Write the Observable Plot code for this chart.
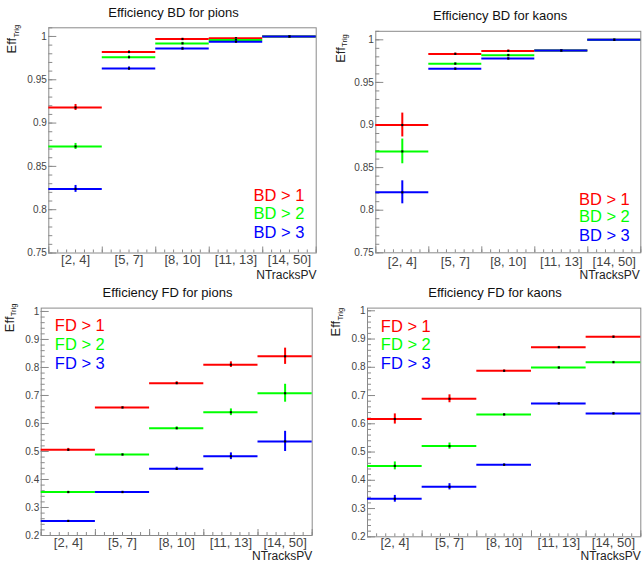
<!DOCTYPE html>
<html><head><meta charset="utf-8">
<script src="https://cdn.jsdelivr.net/npm/d3@7"></script>
<script src="https://cdn.jsdelivr.net/npm/@observablehq/plot@0.6"></script>
<style>
body{margin:0;background:#fff;}
#wrap{position:relative;width:642px;height:562px;overflow:hidden;background:#fff;}
.panel{position:absolute;width:321px;height:281px;}
</style></head><body><div id="wrap"></div>
<script>
// ---- data ----
const bins = ["[2, 4]", "[5, 7]", "[8, 10]", "[11, 13]", "[14, 50]"];
const cutColors = ["#ff0000", "#00ff00", "#0000ff"];
const bdLegend = ["BD > 1", "BD > 2", "BD > 3"];
const fdLegend = ["FD > 1", "FD > 2", "FD > 3"];
const bdYTicks = [0.75, 0.8, 0.85, 0.9, 0.95, 1];
const fdYTicks = [0.2, 0.3, 0.4, 0.5, 0.6, 0.7, 0.8, 0.9, 1];

const bdPionsEff = [
  [0.918, 0.982, 0.997, 0.998, 1.000],
  [0.873, 0.976, 0.992, 0.996, 1.000],
  [0.824, 0.963, 0.986, 0.994, 1.000]];
const bdPionsErr = [
  [0.0035, 0.0015, 0.0010, 0.0008, 0.0005],
  [0.0035, 0.0015, 0.0012, 0.0010, 0.0005],
  [0.0040, 0.0018, 0.0015, 0.0012, 0.0005]];

const bdKaonsEff = [
  [0.900, 0.9835, 0.987, 0.9875, 1.000],
  [0.869, 0.972, 0.982, 0.9875, 1.000],
  [0.821, 0.966, 0.978, 0.9875, 1.000]];
const bdKaonsErr = [
  [0.014, 0.001, 0.001, 0.001, 0.0005],
  [0.0145, 0.001, 0.001, 0.001, 0.0005],
  [0.0135, 0.001, 0.001, 0.001, 0.0005]];

const fdPionsEff = [
  [0.506, 0.657, 0.744, 0.810, 0.840],
  [0.355, 0.489, 0.583, 0.640, 0.708],
  [0.252, 0.355, 0.438, 0.483, 0.536]];
const fdPionsErr = [
  [0.005, 0.003, 0.005, 0.010, 0.029],
  [0.003, 0.003, 0.005, 0.012, 0.032],
  [0.002, 0.003, 0.006, 0.012, 0.036]];

const fdKaonsEff = [
  [0.617, 0.6885, 0.7875, 0.871, 0.908],
  [0.451, 0.521, 0.633, 0.799, 0.818],
  [0.3345, 0.377, 0.455, 0.672, 0.6366]];
const fdKaonsErr = [
  [0.018, 0.014, 0.003, 0.003, 0.003],
  [0.014, 0.011, 0.003, 0.003, 0.003],
  [0.012, 0.011, 0.003, 0.003, 0.003]];

// ---- layout (local pixel positions per pad) ----
const panels = [
  {title: "Efficiency BD for pions", left: 0, top: 0, mL: 48.3, mR: 5.3, mT: 27.3, mB: 28.5,
   ymin: 0.75, ymax: 1.01, minor: 0.01, yTicks: bdYTicks, eff: bdPionsEff, err: bdPionsErr,
   titleX: 173, titleB: 16, effB: 15.7, effEnd: 37.3, ntR: 316, ntB: 278.5, xLabB: 263.5,
   leg: bdLegend, legAnchor: "end", legX: 304, legB: [200.7, 218.7, 237.3]},
  {title: "Efficiency BD for kaons", left: 321, top: 0, mL: 54.3, mR: 1.7, mT: 30.8, mB: 28.7,
   ymin: 0.75, ymax: 1.01, minor: 0.01, yTicks: bdYTicks, eff: bdKaonsEff, err: bdKaonsErr,
   titleX: 178.7, titleB: 19.3, effB: 23, effEnd: 46.7, ntR: 318.3, ntB: 278.8, xLabB: 265,
   leg: bdLegend, legAnchor: "end", legX: 308.3, legB: [204, 221.7, 240]},
  {title: "Efficiency FD for pions", left: 0, top: 281, mL: 40.7, mR: 9.3, mT: 26.6, mB: 27,
   ymin: 0.2, ymax: 1.012, minor: 0.02, yTicks: fdYTicks, eff: fdPionsEff, err: fdPionsErr,
   titleX: 167, titleB: 15.3, effB: 13, effEnd: 35, ntR: 311.7, ntB: 278.3, xLabB: 265.3,
   leg: fdLegend, legAnchor: "start", legX: 54.3, legB: [49.3, 68.3, 87.3]},
  {title: "Efficiency FD for kaons", left: 321, top: 281, mL: 46, mR: 1.7, mT: 26.6, mB: 25.7,
   ymin: 0.2, ymax: 1.0095, minor: 0.02, yTicks: fdYTicks, eff: fdKaonsEff, err: fdKaonsErr,
   titleX: 173.5, titleB: 15.3, effB: 18.3, effEnd: 39.3, ntR: 319.3, ntB: 278.3, xLabB: 265.3,
   leg: fdLegend, legAnchor: "start", legX: 59.3, legB: [50, 68.3, 87.7]}
];

const W = 321, H = 281;
const axisColor = "#8a8a8a";
const font = "'Liberation Sans', Arial, sans-serif";

function makePanel(c) {
  const fw = W - c.mL - c.mR, fh = H - c.mT - c.mB;
  const fb = H - c.mB; // frame bottom
  const fr = W - c.mR; // frame right
  const nMinor = Math.floor((c.ymax - c.ymin) / c.minor + 1e-6);
  const yMinor = d3.range(nMinor + 1).map(k => +(c.ymin + k * c.minor).toFixed(4));
  const xMinor = d3.range(31).map(k => k / 6);
  const marks = [
    Plot.tickY(yMinor, {y: d => d, stroke: axisColor, insetRight: fw - 4}),
    Plot.tickY(c.yTicks, {y: d => d, stroke: axisColor, insetRight: fw - 8}),
    Plot.tickX(xMinor, {x: d => d, stroke: axisColor, insetTop: fh - 3}),
    Plot.tickX(d3.range(6), {x: d => d, stroke: axisColor, insetTop: fh - 6}),
    Plot.frame({stroke: axisColor})
  ];
  c.eff.forEach((vals, s) => {
    const rows = vals.map((v, i) => ({i, v, e: c.err[s][i]}));
    marks.push(Plot.ruleY(rows, {y: "v", x1: "i", x2: d => d.i + 1, stroke: cutColors[s], strokeWidth: 2}));
    marks.push(Plot.ruleX(rows, {x: d => d.i + 0.5, y1: d => d.v - d.e, y2: d => d.v + d.e, stroke: cutColors[s], strokeWidth: 2}));
    marks.push(Plot.dot(rows, {x: d => d.i + 0.5, y: "v", symbol: "square", r: 1.2, fill: "#000"}));
  });
  // y tick labels
  marks.push(Plot.text(c.yTicks, {y: d => d, text: d => String(d), frameAnchor: "left", textAnchor: "end",
    dx: -2, fontSize: 10, fill: "#444"}));
  // x category labels
  marks.push(Plot.text(bins, {x: (d, i) => i + 0.5, text: d => d, frameAnchor: "bottom", lineAnchor: "bottom",
    dy: c.xLabB - fb, fontSize: 13, fill: "#444"}));
  // x axis title
  marks.push(Plot.text(["NTracksPV"], {text: d => d, frameAnchor: "bottom-right", textAnchor: "end", lineAnchor: "bottom",
    dx: c.ntR - fr, dy: c.ntB - fb, fontSize: 12, fill: "#222"}));
  // title
  marks.push(Plot.text([c.title], {text: d => d, frameAnchor: "top-left", textAnchor: "middle", lineAnchor: "bottom",
    dx: c.titleX - c.mL, dy: c.titleB - c.mT, fontSize: 13, fill: "#111"}));
  // y axis title Eff_Trig
  marks.push(Plot.text(["Eff"], {text: d => d, frameAnchor: "top-left", rotate: -90, textAnchor: "end", lineAnchor: "bottom",
    dx: c.effB - c.mL, dy: c.effEnd - c.mT, fontSize: 13, fill: "#222"}));
  marks.push(Plot.text(["Trig"], {text: d => d, frameAnchor: "top-left", rotate: -90, textAnchor: "start", lineAnchor: "bottom",
    dx: c.effB + 2.8 - c.mL, dy: c.effEnd - 0.3 - c.mT, fontSize: 7.5, fill: "#222"}));
  // legend
  c.leg.forEach((t, s) => {
    marks.push(Plot.text([t], {text: d => d, frameAnchor: "top-left", textAnchor: c.legAnchor, lineAnchor: "bottom",
      dx: c.legX - c.mL, dy: c.legB[s] - c.mT, fontSize: 16.5, fill: cutColors[s]}));
  });
  return Plot.plot({
    width: W, height: H,
    marginLeft: c.mL, marginRight: c.mR, marginTop: c.mT, marginBottom: c.mB,
    x: {domain: [0, 5], axis: null},
    y: {domain: [c.ymin, c.ymax], axis: null},
    style: {fontFamily: font, background: "#fff", overflow: "visible"},
    marks
  });
}

const wrap = document.getElementById("wrap");
panels.forEach(c => {
  const div = document.createElement("div");
  div.className = "panel";
  div.style.left = c.left + "px";
  div.style.top = c.top + "px";
  div.appendChild(makePanel(c));
  wrap.appendChild(div);
});
</script></body></html>
